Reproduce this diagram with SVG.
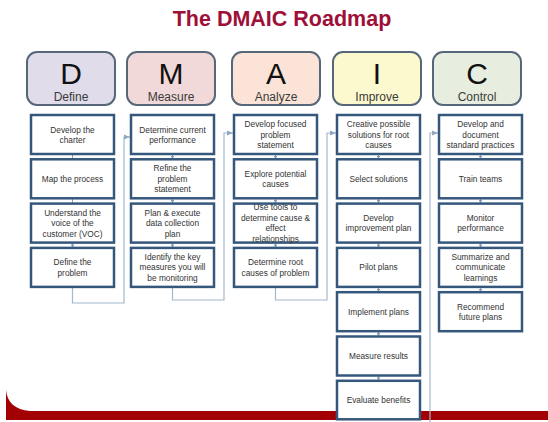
<svg xmlns="http://www.w3.org/2000/svg" width="548" height="422" viewBox="0 0 548 422">
<defs>
<style>
.title{font-family:"Liberation Sans",Arial,sans-serif;font-weight:bold;font-size:21.5px;fill:#9e1038;text-anchor:middle}
.hbox{stroke:#56677a;stroke-width:2}
.letter{font-family:"Liberation Sans",Arial,sans-serif;font-size:30px;fill:#111;text-anchor:middle}
.hlabel{font-family:"Liberation Sans",Arial,sans-serif;font-size:12px;fill:#3a3a3a;text-anchor:middle}
.box{fill:#fff;stroke:#36577c;stroke-width:2.5}
.t{font-family:"Liberation Sans",Arial,sans-serif;font-size:8.3px;fill:#333;text-anchor:middle}
.conn{fill:none;stroke:#a3b8cd;stroke-width:1.2}
.step{fill:none;stroke:#8aa4c0;stroke-width:1}
</style>
<marker id="ah" viewBox="0 0 6 6" refX="6" refY="3" markerWidth="6" markerHeight="6" orient="auto" markerUnits="userSpaceOnUse">
<path d="M0,0.5 L6,3 L0,5.5 Z" fill="#8fa8c2"/>
</marker>
<marker id="sh" viewBox="0 0 4 4" refX="4" refY="2" markerWidth="3.5" markerHeight="3.5" orient="auto" markerUnits="userSpaceOnUse">
<path d="M0,0 L4,2 L0,4 Z" fill="#7f9cbc"/>
</marker>
</defs>
<rect width="548" height="422" fill="#fff"/>
<text class="title" x="282" y="26">The DMAIC Roadmap</text>

<path d="M6,390 C7,402 15,410 30,411 L548,411 L548,420 L6,420 Z" fill="#a30004"/>

<g id="hdr-define"><rect class="hbox" x="27" y="52" width="88" height="53" rx="10" fill="#e1dcea"/><text class="letter" x="71" y="84">D</text><text class="hlabel" x="71" y="101">Define</text></g>
<g id="hdr-measure"><rect class="hbox" x="127" y="52" width="88" height="53" rx="10" fill="#f1d9d9"/><text class="letter" x="171" y="84">M</text><text class="hlabel" x="171" y="101">Measure</text></g>
<g id="hdr-analyze"><rect class="hbox" x="232" y="52" width="88" height="53" rx="10" fill="#fbe4d7"/><text class="letter" x="276" y="84">A</text><text class="hlabel" x="276" y="101">Analyze</text></g>
<g id="hdr-improve"><rect class="hbox" x="333" y="52" width="88" height="53" rx="10" fill="#fdf9cf"/><text class="letter" x="377" y="84">I</text><text class="hlabel" x="377" y="101">Improve</text></g>
<g id="hdr-control"><rect class="hbox" x="433" y="52" width="88" height="53" rx="10" fill="#e7eedf"/><text class="letter" x="477" y="84">C</text><text class="hlabel" x="477" y="101">Control</text></g>

<g id="connectors">
<path class="conn" d="M72.5,287 V303 H124 V137 H130" marker-end="url(#ah)"/>
<path class="conn" d="M172.5,287 V300 H224 V133 H233" marker-end="url(#ah)"/>
<path class="conn" d="M275.5,287 V300 H327 V133 H336" marker-end="url(#ah)"/>
<path class="conn" d="M430,422 V133 H438" marker-end="url(#ah)"/>
<path class="step" d="M72.5,154 V159.3 M72.5,198.3 V203.6 M72.5,242.6 V247.9" marker-end="url(#sh)"/>
<path class="step" d="M172.5,154 V159.3" marker-end="url(#sh)"/>
<path class="step" d="M172.5,198.3 V203.6" marker-end="url(#sh)"/>
<path class="step" d="M172.5,242.6 V247.9" marker-end="url(#sh)"/>
<path class="step" d="M275.5,154 V159.3" marker-end="url(#sh)"/>
<path class="step" d="M275.5,198.3 V203.6" marker-end="url(#sh)"/>
<path class="step" d="M275.5,242.6 V247.9" marker-end="url(#sh)"/>
<path class="step" d="M378.5,154 V159.3" marker-end="url(#sh)"/>
<path class="step" d="M378.5,198.3 V203.6" marker-end="url(#sh)"/>
<path class="step" d="M378.5,242.6 V247.9" marker-end="url(#sh)"/>
<path class="step" d="M378.5,286.9 V292.2" marker-end="url(#sh)"/>
<path class="step" d="M378.5,331.2 V336.5" marker-end="url(#sh)"/>
<path class="step" d="M378.5,375.5 V380.8" marker-end="url(#sh)"/>
<path class="step" d="M480.5,154 V159.3" marker-end="url(#sh)"/>
<path class="step" d="M480.5,198.3 V203.6" marker-end="url(#sh)"/>
<path class="step" d="M480.5,242.6 V247.9" marker-end="url(#sh)"/>
<path class="step" d="M480.5,286.9 V292.2" marker-end="url(#sh)"/>
</g>

<g id="d1"><rect class="box" x="31" y="115" width="83" height="39"/><text class="t" x="72.5" y="132.5">Develop the</text><text class="t" x="72.5" y="143">charter</text></g>
<g id="d2"><rect class="box" x="31" y="159.3" width="83" height="39"/><text class="t" x="72.5" y="181.8">Map the process</text></g>
<g id="d3"><rect class="box" x="31" y="203.6" width="83" height="39"/><text class="t" x="72.5" y="215.6">Understand the</text><text class="t" x="72.5" y="226.1">voice of the</text><text class="t" x="72.5" y="236.6">customer (VOC)</text></g>
<g id="d4"><rect class="box" x="31" y="247.9" width="83" height="39"/><text class="t" x="72.5" y="265.2">Define the</text><text class="t" x="72.5" y="275.7">problem</text></g>

<g id="m1"><rect class="box" x="131" y="115" width="83" height="39"/><text class="t" x="172.5" y="132.5">Determine current</text><text class="t" x="172.5" y="143">performance</text></g>
<g id="m2"><rect class="box" x="131" y="159.3" width="83" height="39"/><text class="t" x="172.5" y="171.3">Refine the</text><text class="t" x="172.5" y="181.8">problem</text><text class="t" x="172.5" y="192.3">statement</text></g>
<g id="m3"><rect class="box" x="131" y="203.6" width="83" height="39"/><text class="t" x="172.5" y="215.6">Plan &amp; execute</text><text class="t" x="172.5" y="226.1">data collection</text><text class="t" x="172.5" y="236.6">plan</text></g>
<g id="m4"><rect class="box" x="131" y="247.9" width="83" height="39"/><text class="t" x="172.5" y="259.9">Identify the key</text><text class="t" x="172.5" y="270.4">measures you will</text><text class="t" x="172.5" y="280.9">be monitoring</text></g>

<g id="a1"><rect class="box" x="234" y="115" width="83" height="39"/><text class="t" x="275.5" y="127">Develop focused</text><text class="t" x="275.5" y="137.5">problem</text><text class="t" x="275.5" y="148">statement</text></g>
<g id="a2"><rect class="box" x="234" y="159.3" width="83" height="39"/><text class="t" x="275.5" y="176.6">Explore potential</text><text class="t" x="275.5" y="187.1">causes</text></g>
<g id="a3"><rect class="box" x="234" y="203.6" width="83" height="39"/><text class="t" x="275.5" y="210">Use tools to</text><text class="t" x="275.5" y="220.5">determine cause &amp;</text><text class="t" x="275.5" y="231">effect</text><text class="t" x="275.5" y="241.5">relationships</text></g>
<g id="a4"><rect class="box" x="234" y="247.9" width="83" height="39"/><text class="t" x="275.5" y="265.2">Determine root</text><text class="t" x="275.5" y="275.7">causes of problem</text></g>

<g id="i1"><rect class="box" x="337" y="115" width="83" height="39"/><text class="t" x="378.5" y="127">Creative possible</text><text class="t" x="378.5" y="137.5">solutions for root</text><text class="t" x="378.5" y="148">causes</text></g>
<g id="i2"><rect class="box" x="337" y="159.3" width="83" height="39"/><text class="t" x="378.5" y="181.8">Select solutions</text></g>
<g id="i3"><rect class="box" x="337" y="203.6" width="83" height="39"/><text class="t" x="378.5" y="220.9">Develop</text><text class="t" x="378.5" y="231.4">improvement plan</text></g>
<g id="i4"><rect class="box" x="337" y="247.9" width="83" height="39"/><text class="t" x="378.5" y="270.4">Pilot plans</text></g>
<g id="i5"><rect class="box" x="337" y="292.2" width="83" height="39"/><text class="t" x="378.5" y="314.7">Implement plans</text></g>
<g id="i6"><rect class="box" x="337" y="336.5" width="83" height="39"/><text class="t" x="378.5" y="359">Measure results</text></g>
<g id="i7"><rect class="box" x="337" y="380.8" width="83" height="38.5"/><text class="t" x="378.5" y="403.3">Evaluate benefits</text></g>

<g id="c1"><rect class="box" x="439" y="115" width="83" height="39"/><text class="t" x="480.5" y="127">Develop and</text><text class="t" x="480.5" y="137.5">document</text><text class="t" x="480.5" y="148">standard practices</text></g>
<g id="c2"><rect class="box" x="439" y="159.3" width="83" height="39"/><text class="t" x="480.5" y="181.8">Train teams</text></g>
<g id="c3"><rect class="box" x="439" y="203.6" width="83" height="39"/><text class="t" x="480.5" y="220.9">Monitor</text><text class="t" x="480.5" y="231.4">performance</text></g>
<g id="c4"><rect class="box" x="439" y="247.9" width="83" height="39"/><text class="t" x="480.5" y="259.9">Summarize and</text><text class="t" x="480.5" y="270.4">communicate</text><text class="t" x="480.5" y="280.9">learnings</text></g>
<g id="c5"><rect class="box" x="439" y="292.2" width="83" height="39"/><text class="t" x="480.5" y="309.5">Recommend</text><text class="t" x="480.5" y="320">future plans</text></g>
</svg>
